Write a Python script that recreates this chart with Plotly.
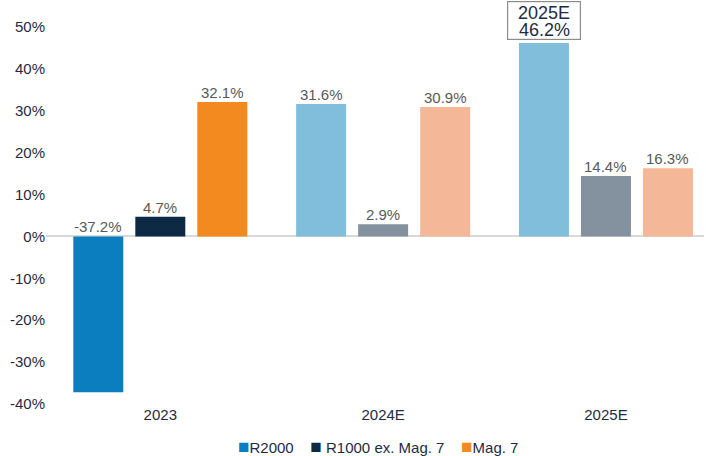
import plotly.graph_objects as go

categories = ["2023", "2024E", "2025E"]
series_names = ["R2000", "R1000 ex. Mag. 7", "Mag. 7"]
r2000 = [-37.2, 31.6, 46.2]
r1000_ex_mag7 = [4.7, 2.9, 14.4]
mag7 = [32.1, 30.9, 16.3]
y_ticks = [-40, -30, -20, -10, 0, 10, 20, 30, 40, 50]
y_tick_labels = [f"{t}%" for t in y_ticks]

values = [r2000, r1000_ex_mag7, mag7]
strong = ["#0A7EBE", "#0D2944", "#F28A1F"]
light = ["#80BEDC", "#84929F", "#F4B797"]

NAVY = "#1E2B44"
FONT = "Liberation Sans, Arial, Helvetica, sans-serif"

fig = go.Figure()
for k, (name, vals) in enumerate(zip(series_names, values)):
    colors = [strong[k] if i == 0 else light[k] for i in range(len(categories))]
    fig.add_trace(go.Bar(
        x=categories, y=vals, name=name,
        marker=dict(color=colors, line=dict(width=0)),
        hoverinfo="skip", showlegend=False,
    ))

NB = "\u00a0"
slot = 0.278
annotations = []
for k, vals in enumerate(values):
    for i, v in enumerate(vals):
        xpos = i + (k - 1) * slot
        if k == 0 and i == len(categories) - 1:
            # highlighted callout box
            annotations.append(dict(
                x=xpos, y=v, xref="x", yref="y", text=NB,
                showarrow=False, yanchor="bottom", yshift=3,
                width=72, height=37, borderpad=0,
                bordercolor="#8C8C8C", borderwidth=1.2, bgcolor="white",
                font=dict(family=FONT, size=10, color=NAVY),
            ))
            annotations.append(dict(
                x=xpos, y=v, xref="x", yref="y", text=categories[i],
                showarrow=False, yanchor="middle", yshift=30,
                font=dict(family=FONT, size=18, color=NAVY),
            ))
            annotations.append(dict(
                x=xpos, y=v, xref="x", yref="y", text=f"{v:.1f}%",
                showarrow=False, yanchor="middle", yshift=13,
                font=dict(family=FONT, size=18, color=NAVY),
            ))
        else:
            annotations.append(dict(
                x=xpos, y=max(v, 0), xref="x", yref="y",
                text=f"{v:.1f}%", showarrow=False,
                yanchor="bottom", yshift=-1,
                font=dict(family=FONT, size=15, color="#595959"),
            ))

legend_parts = []
for k, (c, n) in enumerate(zip(strong, series_names)):
    sep = NB if k == 1 else ""
    tail = NB * 4 if k < 2 else ""
    legend_parts.append(
        f"<span style='color:{c};font-size:19px'>■</span>{sep}{n}{tail}"
    )
annotations.append(dict(
    x=0.505, y=-0.114, xref="paper", yref="paper", text="".join(legend_parts),
    showarrow=False, xanchor="center", yanchor="middle",
    font=dict(family=FONT, size=15, color=NAVY),
))

fig.update_layout(
    width=706, height=456,
    margin=dict(l=46, r=2, t=27, b=52, autoexpand=False),
    paper_bgcolor="white", plot_bgcolor="white",
    barmode="group", bargap=0.165, bargroupgap=0.194,
    font=dict(family=FONT, size=15, color=NAVY),
    showlegend=False,
    annotations=annotations,
    xaxis=dict(type="category", range=[-0.513, 2.44], showgrid=False, showline=False,
               ticks="", tickfont=dict(size=15, color=NAVY), zeroline=False,
               automargin=False),
    yaxis=dict(range=[-40, 50], tickvals=y_ticks, ticktext=y_tick_labels,
               showgrid=False, showline=False, ticks="",
               zeroline=True, zerolinecolor="#D9D9D9", zerolinewidth=2,
               tickfont=dict(size=15, color=NAVY), automargin=False),
)

fig.write_html("out.html", config={"displayModeBar": False},
               post_script="document.body.style.margin='0';")
